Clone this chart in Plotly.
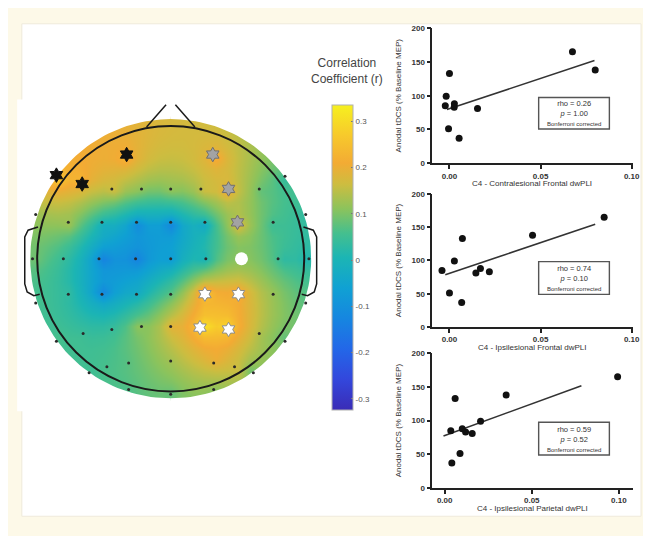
import numpy as np
import plotly.graph_objects as go

# ---------------------------------------------------------------- data
# EEG montage (2-D projected positions, head radius = 1) and the
# correlation coefficient (r) read at each electrode of the topography
channels = ["F7", "F8", "AF3", "AF4", "F5", "F3", "F1", "Fz", "F2", "F4", "F6",
            "FT7", "FC5", "FC3", "FC1", "FCz", "FC2", "FC4", "FC6", "FT8",
            "T7", "C5", "C3", "C1", "Cz", "C2", "C4", "C6", "T8",
            "TP7", "CP5", "CP3", "CP1", "CPz", "CP2", "CP4", "CP6", "TP8",
            "P7", "P5", "P3", "P1", "Pz", "P2", "P4", "P6", "P8",
            "PO7", "PO5", "PO3", "POz", "PO4", "PO6", "PO8",
            "O1", "Oz", "O2"]
chan_x = [-0.856, 0.856, -0.330, 0.315, -0.663, -0.441, -0.219, 0.0, 0.226, 0.433, 0.663,
          -1.011, -0.767, -0.515, -0.256, 0.0, 0.256, 0.500, 0.767, 1.011,
          -1.035, -0.804, -0.537, -0.263, 0.0, 0.263, 0.530, 0.804, 1.035,
          -1.011, -0.767, -0.515, -0.256, 0.0, 0.256, 0.507, 0.767, 1.011,
          -0.856, -0.656, -0.441, -0.219, 0.0, 0.219, 0.433, 0.663, 0.856,
          -0.611, -0.478, -0.315, 0.0, 0.322, 0.478, 0.619,
          -0.315, 0.0, 0.322]
chan_y = [0.630, 0.622, 0.785, 0.785, 0.563, 0.526, 0.526, 0.526, 0.526, 0.526, 0.526,
          0.333, 0.274, 0.274, 0.274, 0.274, 0.274, 0.274, 0.274, 0.333,
          0.0, 0.0, 0.0, 0.0, 0.0, 0.0, 0.0, 0.0, 0.0,
          -0.333, -0.267, -0.267, -0.267, -0.267, -0.267, -0.267, -0.267, -0.333,
          -0.622, -0.563, -0.533, -0.511, -0.511, -0.519, -0.533, -0.563, -0.622,
          -0.859, -0.815, -0.785, -0.770, -0.785, -0.815, -0.859,
          -0.985, -1.022, -0.985]
chan_r = [0.26, 0.04, 0.23, 0.22, 0.23, 0.16, 0.11, 0.11, 0.16, 0.21, 0.08,
          0.12, 0.12, -0.02, -0.11, -0.12, -0.03, 0.18, 0.05, 0.03,
          0.09, 0.05, -0.13, -0.13, -0.07, 0.00, 0.11, 0.03, 0.01,
          0.06, 0.03, -0.12, -0.03, 0.07, 0.26, 0.23, 0.12, 0.07,
          0.06, 0.05, 0.04, 0.11, 0.19, 0.31, 0.29, 0.13, 0.08,
          0.05, 0.06, 0.07, 0.13, 0.20, 0.16, 0.09,
          0.06, 0.08, 0.10]
black_star_chans = ["F7", "F5", "AF3"]
gray_star_chans = ["AF4", "F4", "FC4"]
white_star_chans = ["CP2", "CP4", "P2", "P4"]
seed_chans = ["C4"]

cbar_ticks = [-0.3, -0.2, -0.1, 0, 0.1, 0.2, 0.3]
cbar_ticktext = ["-0.3", "-0.2", "-0.1", "0", "0.1", "0.2", "0.3"]
r_min, r_max = -0.325, 0.335

# scatter panels (same 10 subjects in each panel)
mep = [85, 99, 133, 51, 37, 81, 88, 83, 138, 165]          # Anodal tDCS (% baseline MEP)
dw_contra_frontal = [-0.0023, -0.0018, 0.0000, -0.0005, 0.0053, 0.0154, 0.0027, 0.0026, 0.0800, 0.0675]
dw_ipsi_frontal = [-0.0041, 0.0027, 0.0071, 0.0000, 0.0067, 0.0145, 0.0170, 0.0219, 0.0456, 0.0849]
dw_ipsi_parietal = [0.0035, 0.0206, 0.0060, 0.0088, 0.0041, 0.0158, 0.0101, 0.0120, 0.0353, 0.0993]
fit_contra_frontal = ([-0.0014, 0.0796], [79.4, 152.2])
fit_ipsi_frontal = ([-0.0023, 0.0800], [78.5, 154.2])
fit_ipsi_parietal = ([-0.0007, 0.0785], [77.2, 151.7])
x_titles = ["C4 - Contralesional Frontal dwPLI", "C4 - Ipsilesional Frontal dwPLI",
            "C4 - Ipsilesional Parietal dwPLI"]
rho_vals = ["0.26", "0.74", "0.59"]
p_vals = ["1.00", "0.10", "0.52"]
y_title = "Anodal tDCS (% Baseline MEP)"
x_tickvals = [0, 0.05, 0.10]
x_ticktext = ["0.00", "0.05", "0.10"]
y_tickvals = [0, 50, 100, 150, 200]

# ---------------------------------------------------------------- style
colorscale = [[0.00, "#3a2cb6"], [0.10, "#3347dc"], [0.20, "#2367e8"],
              [0.30, "#1686e0"], [0.40, "#10a1d3"], [0.50, "#1cb5b4"],
              [0.58, "#45bf8e"], [0.66, "#8cc35c"], [0.74, "#cdbd40"],
              [0.81, "#f3ab34"], [0.90, "#f7c92c"], [1.00, "#f6f01f"]]

FONT = "Liberation Sans, Arial, sans-serif"
PAGE_OFF = 8                       # browser body margin
W, H = 651 - PAGE_OFF, 536 - PAGE_OFF


def fx(p):
    return (p - PAGE_OFF) / W


def fy(p):
    return 1 - (p - PAGE_OFF) / H


# head geometry (pixels of the picture)
HCX, HCY, HR = 172.5, 259.0, 135.0
hx_rng = [-1.15, 1.15]
hy_rng = [-1.15, 1.2]
DISC_R = 1.052

fig = go.Figure()

# ---------------------------------------------------------------- topography
N = 27
grid = np.linspace(-1.1, 1.1, N)
step = grid[1] - grid[0]
cells = {}
for cx, cy, cr in zip(chan_x, chan_y, chan_r):
    key = (int(round((cy - grid[0]) / step)), int(round((cx - grid[0]) / step)))
    cells.setdefault(key, []).append(cr)
zgrid = [[None] * N for _ in range(N)]
for (i, j), vals in cells.items():
    zgrid[i][j] = sum(vals) / len(vals)

fig.add_trace(go.Heatmap(
    x=grid, y=grid, z=zgrid, connectgaps=True, zsmooth="best",
    colorscale=colorscale, zmin=r_min, zmax=r_max, hoverinfo="skip",
    xaxis="x", yaxis="y",
    colorbar=dict(x=fx(336), xanchor="left", y=fy(258), yanchor="middle",
                  len=310 / H, lenmode="fraction", thickness=21, thicknessmode="pixels",
                  xpad=0, ypad=0, outlinewidth=1, outlinecolor="#b0b0b0",
                  tickvals=cbar_ticks, ticktext=cbar_ticktext, ticks="inside",
                  ticklen=2, tickcolor="#777",
                  tickfont=dict(size=8, color="#555", family=FONT)),
))

# white mask outside the interpolation disc (two overlapping halves)
theta = np.linspace(0, np.pi, 90)
for s in (-1, 1):
    ox = 0.02 * s
    arc_x = list(s * DISC_R * np.sin(theta))
    arc_y = list(DISC_R * np.cos(theta))
    mx = [-ox, s * 1.3, s * 1.3, -ox] + arc_x[::-1]
    my = [1.3, 1.3, -1.3, -1.3] + arc_y[::-1]
    fig.add_trace(go.Scatter(x=mx, y=my, mode="lines", fill="toself", fillcolor="white",
                             line=dict(width=0, color="white"), hoverinfo="skip",
                             xaxis="x", yaxis="y"))


def chan_subset(names):
    idx = [channels.index(n) for n in names]
    return [chan_x[i] for i in idx], [chan_y[i] for i in idx]


special = set(black_star_chans + gray_star_chans + white_star_chans + seed_chans)
dot_names = [c for c in channels if c not in special]
dxs, dys = chan_subset(dot_names)
fig.add_trace(go.Scatter(x=dxs, y=dys, mode="markers", hoverinfo="skip",
                         marker=dict(size=3, color="#2a2a2a"), xaxis="x", yaxis="y"))
for names, fill, line in [(black_star_chans, "#111111", "#111111"),
                          (gray_star_chans, "#a3a3a3", "#6f6f6f"),
                          (white_star_chans, "#ffffff", "#8c8c8c")]:
    sx, sy = chan_subset(names)
    fig.add_trace(go.Scatter(x=sx, y=sy, mode="markers", hoverinfo="skip",
                             marker=dict(symbol="hexagram", size=11, color=fill,
                                         line=dict(color=line, width=1)),
                             xaxis="x", yaxis="y"))
sx, sy = chan_subset(seed_chans)
fig.add_trace(go.Scatter(x=sx, y=sy, mode="markers", hoverinfo="skip",
                         marker=dict(size=13, color="white", line=dict(width=0)),
                         xaxis="x", yaxis="y"))

shapes = []
# white panel on cream page
shapes.append(dict(type="rect", xref="paper", yref="paper", x0=fx(22), x1=fx(648),
                   y0=fy(521), y1=fy(20), fillcolor="white",
                   line=dict(color="#efeadb", width=1), layer="below"))
# head outline
shapes.append(dict(type="circle", xref="x", yref="y", x0=-1, x1=1, y0=-1, y1=1,
                   line=dict(color="#1a1a1a", width=2), layer="above"))
# nose
shapes.append(dict(type="path", xref="x", yref="y", path="M -0.181,0.993 L -0.035,1.16",
                   line=dict(color="#1a1a1a", width=1.5), layer="above"))
shapes.append(dict(type="path", xref="x", yref="y", path="M 0.181,0.993 L 0.035,1.16",
                   line=dict(color="#1a1a1a", width=1.5), layer="above"))
# ears
for s in (-1, 1):
    pts = [(0.994, 0.239), (1.068, 0.215), (1.093, 0.165), (1.093, -0.19),
           (1.075, -0.25), (1.025, -0.279), (0.981, -0.267)]
    p = "M " + " L ".join(f"{s * a},{b}" for a, b in pts)
    shapes.append(dict(type="path", xref="x", yref="y", path=p,
                       line=dict(color="#1a1a1a", width=1.5), layer="above"))

annotations = [dict(xref="paper", yref="paper", x=fx(351), y=fy(68.5), xanchor="center",
                    yanchor="middle", showarrow=False,
                    text="Correlation<br>Coefficient (r)",
                    font=dict(size=12, color="#444", family=FONT))]

layout_axes = dict(
    xaxis=dict(domain=[fx(HCX + hx_rng[0] * HR), fx(HCX + hx_rng[1] * HR)], range=hx_rng,
               visible=False, fixedrange=True),
    yaxis=dict(domain=[fy(HCY - hy_rng[0] * HR), fy(HCY - hy_rng[1] * HR)], range=hy_rng,
               visible=False, fixedrange=True),
)

# ---------------------------------------------------------------- scatter panels
panels = [
    dict(x=dw_contra_frontal, fit=fit_contra_frontal, top=24.5, bot=161.8,
         xr=[-0.0094, 0.1008], xt=182.5, box=(95, 127)),
    dict(x=dw_ipsi_frontal, fit=fit_ipsi_frontal, top=193.0, bot=328.5,
         xr=[-0.0094, 0.1008], xt=349.5, box=(262, 295.3)),
    dict(x=dw_ipsi_parietal, fit=fit_ipsi_parietal, top=355.2, bot=492.2,
         xr=[-0.0071, 0.1082], xt=513, box=(425.3, 458.7)),
]
AX_L, AX_R = 437, 640
axis_style = dict(showline=True, linecolor="#222", linewidth=1.5, ticks="outside",
                  ticklen=4, tickwidth=1.5, tickcolor="#222", showgrid=False,
                  zeroline=False, fixedrange=True,
                  tickfont=dict(size=8, color="#333", family=FONT, weight="bold"))
for n, pnl in enumerate(panels):
    ax = n + 2
    xa, ya = f"x{ax}", f"y{ax}"
    fig.add_trace(go.Scatter(x=pnl["fit"][0], y=pnl["fit"][1], mode="lines",
                             line=dict(color="#333", width=1.6), hoverinfo="skip",
                             xaxis=xa, yaxis=ya))
    fig.add_trace(go.Scatter(x=pnl["x"], y=mep, mode="markers",
                             marker=dict(size=7, color="#111"), xaxis=xa, yaxis=ya))
    layout_axes[f"xaxis{ax}"] = dict(domain=[fx(AX_L), fx(AX_R)], range=pnl["xr"],
                                     anchor=ya, tickvals=x_tickvals, ticktext=x_ticktext,
                                     **axis_style)
    layout_axes[f"yaxis{ax}"] = dict(domain=[fy(pnl["bot"]), fy(pnl["top"])], range=[0, 200],
                                     anchor=xa, tickvals=y_tickvals, **axis_style)
    # axis titles
    annotations.append(dict(xref="paper", yref="paper", x=fx(538), y=fy(pnl["xt"]),
                            text=x_titles[n], showarrow=False, xanchor="center",
                            yanchor="middle", font=dict(size=8, color="#333", family=FONT)))
    annotations.append(dict(xref="paper", yref="paper", x=fx(403),
                            y=fy((pnl["top"] + pnl["bot"]) / 2), text=y_title,
                            textangle=-90, showarrow=False, xanchor="center",
                            yanchor="middle", font=dict(size=8, color="#333", family=FONT)))
    # statistics box
    b0, b1 = pnl["box"]
    cy = (b0 + b1) / 2
    shapes.append(dict(type="rect", xref="paper", yref="paper", x0=fx(544.5), x1=fx(616),
                       y0=fy(b1), y1=fy(b0), line=dict(color="#555", width=1.4),
                       fillcolor="rgba(0,0,0,0)", layer="above"))
    annotations.append(dict(xref="paper", yref="paper", x=fx(580.3), y=fy(cy),
                            text=(f"rho = {rho_vals[n]}<br><i>p</i> = {p_vals[n]}<br>"
                                  "<span style='font-size:6px'>Bonferroni corrected</span>"),
                            showarrow=False, xanchor="center", yanchor="middle",
                            font=dict(size=7.5, color="#333", family=FONT)))

fig.update_layout(
    width=W, height=H, autosize=False, margin=dict(l=0, r=0, t=0, b=0),
    paper_bgcolor="#fdf9e8", plot_bgcolor="rgba(0,0,0,0)",
    showlegend=False, shapes=shapes, annotations=annotations,
    font=dict(family=FONT), **layout_axes,
)

fig.write_html("out.html", config={"displayModeBar": False})
